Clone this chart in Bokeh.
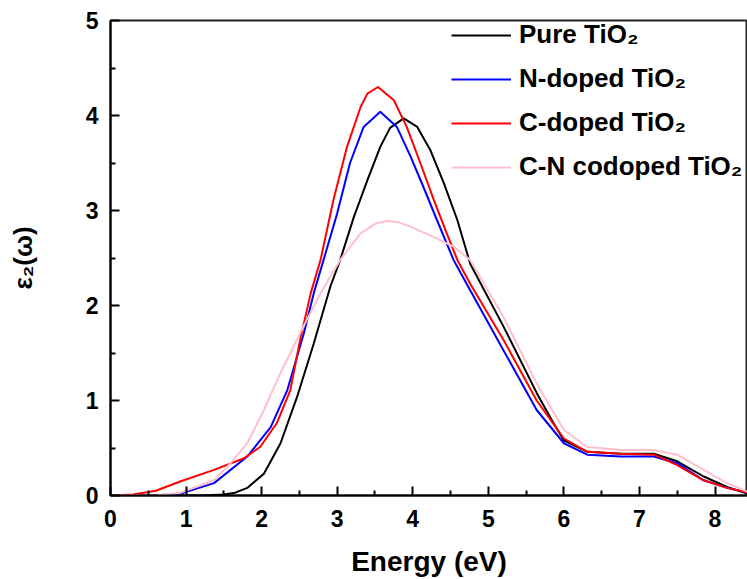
from bokeh.plotting import figure
from bokeh.models import Range1d, Legend, LegendItem, FixedTicker
from bokeh.embed import file_html
from bokeh.resources import INLINE

# Pure TiO2
pure_x = [0, 1.2, 1.5, 1.65, 1.81, 2.03, 2.25, 2.47, 2.69, 2.91, 3.04, 3.22, 3.40, 3.57, 3.70, 3.88,
          4.06, 4.23, 4.41, 4.59, 4.76, 5.20, 5.64, 5.85, 6.0, 6.31, 6.75, 7.19, 7.5, 7.85, 8.16, 8.43]
pure_y = [0, 0, 0.01, 0.03, 0.08, 0.23, 0.55, 1.04, 1.60, 2.20, 2.48, 2.93, 3.32, 3.67, 3.87, 3.97,
          3.88, 3.64, 3.29, 2.90, 2.44, 1.78, 1.08, 0.78, 0.58, 0.46, 0.44, 0.44, 0.36, 0.20, 0.09, 0.02]

# N-doped TiO2
n_x = [0, 0.6, 0.93, 1.37, 1.81, 2.12, 2.34, 2.56, 2.69, 2.82, 3.0, 3.17, 3.35, 3.57, 3.79, 3.97,
       4.14, 4.32, 4.54, 4.76, 5.20, 5.64, 6.0, 6.31, 6.75, 7.19, 7.5, 7.85, 8.16, 8.43]
n_y = [0, 0, 0.02, 0.13, 0.41, 0.72, 1.11, 1.71, 2.13, 2.48, 2.97, 3.50, 3.88, 4.04, 3.88, 3.57,
       3.25, 2.90, 2.48, 2.16, 1.53, 0.90, 0.55, 0.43, 0.41, 0.41, 0.34, 0.16, 0.08, 0.03]

# C-doped TiO2
c_x = [0, 0.3, 0.6, 0.93, 1.37, 1.76, 1.98, 2.2, 2.38, 2.51, 2.65, 2.78, 2.95, 3.13, 3.31, 3.40, 3.54,
       3.75, 3.92, 4.10, 4.28, 4.45, 4.59, 4.76, 5.20, 5.64, 6.0, 6.31, 6.75, 7.19, 7.5, 7.85, 8.16, 8.43]
c_y = [0, 0.01, 0.05, 0.15, 0.27, 0.39, 0.51, 0.76, 1.11, 1.64, 2.13, 2.48, 3.11, 3.67, 4.09, 4.23, 4.30,
       4.16, 3.88, 3.50, 3.11, 2.76, 2.48, 2.23, 1.64, 1.00, 0.60, 0.46, 0.44, 0.43, 0.32, 0.16, 0.08, 0.03]

# C-N codoped TiO2
cn_x = [0, 0.6, 0.93, 1.37, 1.59, 1.81, 2.03, 2.25, 2.51, 2.78, 3.04, 3.31, 3.5, 3.66, 3.8, 3.97, 4.28,
        4.54, 4.76, 5.20, 5.64, 6.0, 6.31, 6.75, 7.19, 7.5, 7.85, 8.16, 8.43]
cn_y = [0, 0, 0.03, 0.16, 0.34, 0.55, 0.90, 1.29, 1.71, 2.13, 2.48, 2.76, 2.86, 2.89, 2.88, 2.83, 2.72,
        2.62, 2.48, 1.88, 1.18, 0.69, 0.51, 0.48, 0.48, 0.43, 0.27, 0.13, 0.04]

labels = ["Pure TiO\u2082", "N-doped TiO\u2082", "C-doped TiO\u2082", "C-N codoped TiO\u2082"]
colors = ["black", "#0000FF", "#FF0000", "#FFC0CB"]
x_ticks = [0, 1, 2, 3, 4, 5, 6, 7, 8]
y_ticks = [0, 1, 2, 3, 4, 5]

FONT = "Liberation Sans"

p = figure(width=747, height=579, x_range=Range1d(0, 8.43), y_range=Range1d(0, 5),
           output_backend="svg", toolbar_location=None,
           min_border_left=110, min_border_right=0, min_border_top=20, min_border_bottom=83)
p.background_fill_color = "white"
p.border_fill_color = "white"
p.grid.visible = False
p.outline_line_color = "#222222"
p.outline_line_width = 2

renderers = []
for xs, ys, col in zip([pure_x, n_x, c_x, cn_x], [pure_y, n_y, c_y, cn_y], colors):
    r = p.line(xs, ys, line_color=col, line_width=2, line_join="round")
    renderers.append(r)

for ax, ticks in ((p.xaxis[0], x_ticks), (p.yaxis[0], y_ticks)):
    ax.ticker = FixedTicker(ticks=ticks, minor_ticks=[t + 0.5 for t in ticks])
    ax.axis_line_width = 2
    ax.axis_line_color = "black"
    ax.major_tick_in = 9
    ax.major_tick_out = 0
    ax.minor_tick_in = 5
    ax.minor_tick_out = 0
    ax.major_tick_line_width = 2
    ax.minor_tick_line_width = 2
    ax.major_tick_line_color = "black"
    ax.minor_tick_line_color = "black"
    ax.major_label_text_font = FONT
    ax.major_label_text_font_style = "bold"
    ax.major_label_text_font_size = "23px"
    ax.major_label_text_color = "black"
    ax.axis_label_text_font = FONT
    ax.axis_label_text_font_style = "bold"
    ax.axis_label_text_color = "black"

p.xaxis.axis_label = "Energy (eV)"
p.xaxis.axis_label_text_font_size = "28px"
p.xaxis.major_label_standoff = 14
p.xaxis.axis_label_standoff = 16

p.yaxis.axis_label = "\u03b5\u2082(\u03c9)"
p.yaxis.axis_label_text_font_size = "26px"
p.yaxis.major_label_standoff = 12
p.yaxis.axis_label_standoff = 45

legend = Legend(items=[LegendItem(label=l, renderers=[r]) for l, r in zip(labels, renderers)],
                location=(341, 313), padding=0, margin=0, spacing=13,
                glyph_width=60, glyph_height=30, label_height=30, label_standoff=8,
                label_text_font=FONT, label_text_font_style="bold", label_text_font_size="26px",
                label_text_color="black", border_line_color=None, background_fill_alpha=0)
p.add_layout(legend)

open("out.html", "w").write(file_html(p, INLINE))
